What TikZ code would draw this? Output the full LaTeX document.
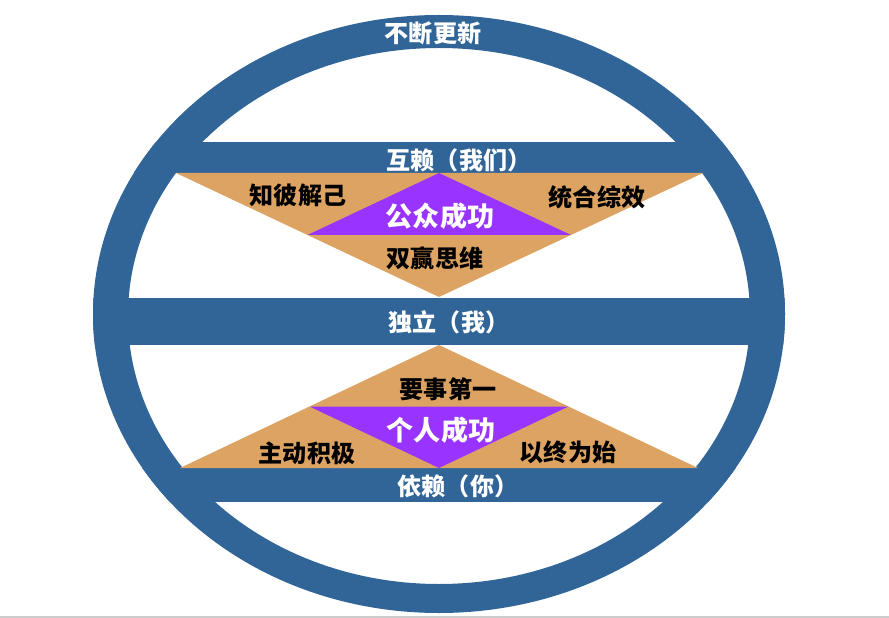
\documentclass[tikz,border=0pt]{standalone}
\usepackage{fontspec}
\newfontfamily\cjk{Noto Sans CJK SC}
\definecolor{ringblue}{RGB}{49,101,152}
\definecolor{stageorange}{RGB}{221,163,99}
\definecolor{winpurple}{RGB}{153,51,255}

\begin{document}
\begin{tikzpicture}[x=0.02cm, y=-0.02cm,
    bartext/.style={inner sep=0pt, text=white, font=\fontsize{13.7}{16}\selectfont\cjk\bfseries},
    habittext/.style={inner sep=0pt, text=black, font=\fontsize{13.7}{16}\selectfont\cjk\bfseries},
    wintext/.style={inner sep=0pt, text=white, font=\fontsize{15.4}{18}\selectfont\cjk\bfseries}]
    \useasboundingbox (0,0) rectangle (889,618);
    % bars across the ellipse
    \begin{scope}
        \clip (439,314) ellipse [x radius=346, y radius=299];
        \fill[ringblue] (0,142) rectangle (889,173);
        \fill[ringblue] (0,298) rectangle (889,345);
        \fill[ringblue] (0,468) rectangle (889,502);
    \end{scope}
    \fill[ringblue, even odd rule] (439,314) ellipse [x radius=346, y radius=299]
        (439,316) ellipse [x radius=311, y radius=268];
    % public victory
    \fill[stageorange] (176,173) -- (703,173) -- (439,297) -- cycle;
    \fill[winpurple] (439,173) -- (307.5,235) -- (571,235) -- cycle;
    % private victory
    \fill[stageorange] (439,345) -- (180,468) -- (698,468) -- cycle;
    \fill[winpurple] (309.5,406.5) -- (568.5,406.5) -- (439,468) -- cycle;
    \draw[gray!40, line width=1.2pt] (0,617) -- (889,617);

    \node[bartext] (renew) at (433,33) {不断更新};
    \node[bartext] (inter) at (459,160) {互赖（我们）};
    \node[bartext] (indep) at (449,322) {独立（我）};
    \node[bartext] (dep) at (458,486) {依赖（你）};

    \node[habittext] (understand) at (298,195) {知彼解己};
    \node[habittext] (synergy) at (597,197) {统合综效};
    \node[habittext] (winwin) at (435,258) {双赢思维};
    \node[wintext] (public) at (440,216) {公众成功};

    \node[habittext] (first) at (448,389) {要事第一};
    \node[habittext] (proactive) at (307,453) {主动积极};
    \node[habittext] (endmind) at (568,452) {以终为始};
    \node[wintext] (private) at (441,430) {个人成功};
\end{tikzpicture}
\end{document}
